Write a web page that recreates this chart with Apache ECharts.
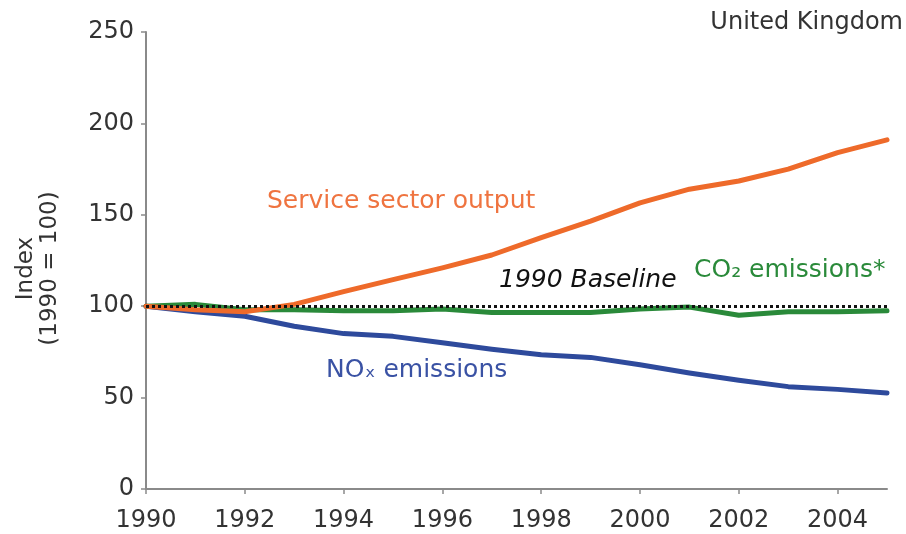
<!DOCTYPE html>
<html>
<head>
<meta charset="utf-8">
<script src="https://cdn.jsdelivr.net/npm/echarts@6/dist/echarts.min.js"></script>
<style>
    html, body {margin: 0; padding: 0; background: #fff;}
    #chart {width: 906px; height: 534px;}
</style>
</head>
<body>
<div id="chart"></div>
<script>
// 年份（x轴类目）
var years = ['1990', '1991', '1992', '1993', '1994', '1995', '1996', '1997',
    '1998', '1999', '2000', '2001', '2002', '2003', '2004', '2005'];
// 各序列数值 (1990 = 100)
var serviceOutput = [100, 98, 97, 101, 108, 114.5, 121, 128, 137.5, 146.5, 156.5, 164, 168.5, 175, 184, 191];
var co2Emissions = [100, 101, 98, 98, 97.5, 97.5, 98.5, 96.5, 96.5, 96.5, 98.5, 99.5, 95, 97, 97, 97.5];
var noxEmissions = [100, 97, 94.5, 89, 85, 83.5, 80, 76.5, 73.5, 72, 68, 63.5, 59.5, 56, 54.5, 52.5];
var baselineValue = 100;
var yTicks = [0, 50, 100, 150, 200, 250];

var FONT = 'DejaVu Sans';
var ORANGE = '#EE6A2A', GREEN = '#2A8A3A', BLUE = '#2E4A9C';

var myChart = echarts.init(document.getElementById('chart'));

function lineSeries(name, data, color, z) {
    return {
        name: name,
        type: 'line',
        data: data,
        symbol: 'none',
        smooth: false,
        z: z,
        lineStyle: {color: color, width: 5, join: 'round', cap: 'round'}
    };
}

var option = {
    animation: false,
    backgroundColor: '#fff',
    grid: {left: 146, right: 19, top: 32, bottom: 45},
    xAxis: {
        type: 'category',
        data: years,
        boundaryGap: false,
        axisLine: {lineStyle: {color: '#8a8a8a', width: 2}},
        axisTick: {show: true, interval: 1, length: 5, lineStyle: {color: '#8a8a8a', width: 1.5}},
        axisLabel: {interval: 1, color: '#333', fontFamily: FONT, fontSize: 24, margin: 20}
    },
    yAxis: {
        type: 'value',
        min: yTicks[0],
        max: yTicks[yTicks.length - 1],
        interval: 50,
        name: 'Index\n(1990 = 100)',
        nameLocation: 'middle',
        nameRotate: 90,
        nameGap: 84,
        nameTextStyle: {color: '#333', fontFamily: FONT, fontSize: 23, lineHeight: 24, padding: [0, 16, 0, 0]},
        axisLine: {show: true, lineStyle: {color: '#8a8a8a', width: 2}},
        axisTick: {show: true, length: 5, lineStyle: {color: '#8a8a8a', width: 1.5}},
        axisLabel: {color: '#333', fontFamily: FONT, fontSize: 24, margin: 12},
        splitLine: {show: false}
    },
    series: [
        lineSeries('NOx emissions', noxEmissions, BLUE, 2),
        lineSeries('CO2 emissions', co2Emissions, GREEN, 3),
        lineSeries('Service sector output', serviceOutput, ORANGE, 4),
        {
            name: 'baseline',
            type: 'line',
            data: [],
            z: 5,
            markLine: {
                silent: true,
                symbol: 'none',
                label: {show: false},
                lineStyle: {color: '#111', width: 3, type: [3, 3]},
                data: [{yAxis: baselineValue}]
            }
        }
    ],
    graphic: [
        {type: 'text', right: 3, top: 11, style: {text: 'United Kingdom', fill: '#333', font: '24px "DejaVu Sans"'}},
        {type: 'text', left: 267, top: 189, style: {text: 'Service sector output', fill: '#EF7440', font: '25px "DejaVu Sans"'}},
        {type: 'text', left: 499, top: 268, style: {text: '1990 Baseline', fill: '#111', font: 'italic 25px "DejaVu Sans"'}},
        {type: 'text', left: 694, top: 258, style: {text: 'CO\u2082 emissions*', fill: GREEN, font: '25px "DejaVu Sans"'}},
        {type: 'text', left: 326, top: 358, style: {text: 'NO\u2093 emissions', fill: '#3A52A4', font: '25px "DejaVu Sans"'}}
    ]
};
myChart.setOption(option);
</script>
</body>
</html>
